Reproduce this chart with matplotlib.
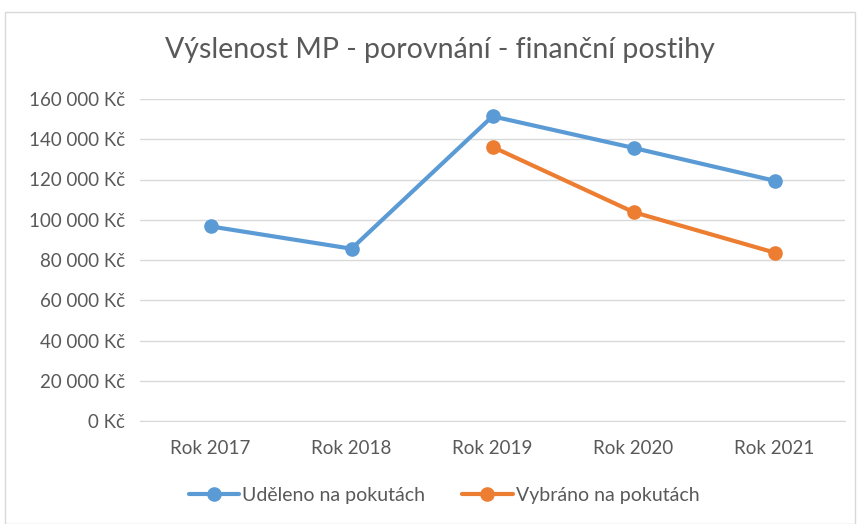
import matplotlib.pyplot as plt
from matplotlib.patches import Rectangle
from matplotlib.ticker import FuncFormatter

plt.rcParams['font.family'] = ['Lato', 'DejaVu Sans']

years = ['Rok 2017', 'Rok 2018', 'Rok 2019', 'Rok 2020', 'Rok 2021']
udeleno = [96700, 85600, 151400, 135700, 119400]
vybrano_years = ['Rok 2019', 'Rok 2020', 'Rok 2021']
vybrano = [136200, 103800, 83700]

text_col = '#595959'

fig = plt.figure(figsize=(8.6, 5.24), dpi=100)
fig.patches.append(Rectangle((5 / 860, 0), 850 / 860, 1 - 12 / 524, transform=fig.transFigure,
                             fill=False, edgecolor='#d9d9d9', linewidth=1))
ax = fig.add_axes([140 / 860, 103 / 524, 705 / 860, 322 / 524])

x = list(range(len(years)))
ax.plot(x, udeleno, color='#5b9bd5', linewidth=3, marker='o', markersize=9.5,
        label='Uděleno na pokutách', solid_capstyle='round')
xv = [years.index(y) for y in vybrano_years]
ax.plot(xv, vybrano, color='#ed7d31', linewidth=3, marker='o', markersize=9.5,
        label='Vybráno na pokutách', solid_capstyle='round')

ax.set_xlim(-0.5, len(years) - 0.5)
ax.set_ylim(0, 160000)
ax.set_yticks(range(0, 160001, 20000))
ax.yaxis.set_major_formatter(FuncFormatter(lambda v, p: f'{int(v):,} Kč'.replace(',', ' ')))
ax.set_xticks(x)
ax.set_xticklabels(years)
ax.grid(axis='y', color='#d9d9d9', linewidth=1)
ax.set_axisbelow(True)
for s in ['top', 'right', 'left']:
    ax.spines[s].set_visible(False)
ax.spines['bottom'].set_color('#d9d9d9')
ax.tick_params(length=0, labelsize=13.5, colors=text_col)
ax.tick_params(axis='x', pad=14)
ax.tick_params(axis='y', pad=11)

fig.text(440 / 860, 1 - 50 / 524, 'Výslenost MP - porovnání - finanční postihy',
         ha='center', va='center', fontsize=20.5, color=text_col)

fig.legend(loc='center', bbox_to_anchor=(444 / 860, 1 - 495 / 524), ncol=2, frameon=False,
           fontsize=14, labelcolor=text_col, handlelength=2.6, columnspacing=1.9, handletextpad=0.15)

fig.savefig('out.png', dpi=100)
